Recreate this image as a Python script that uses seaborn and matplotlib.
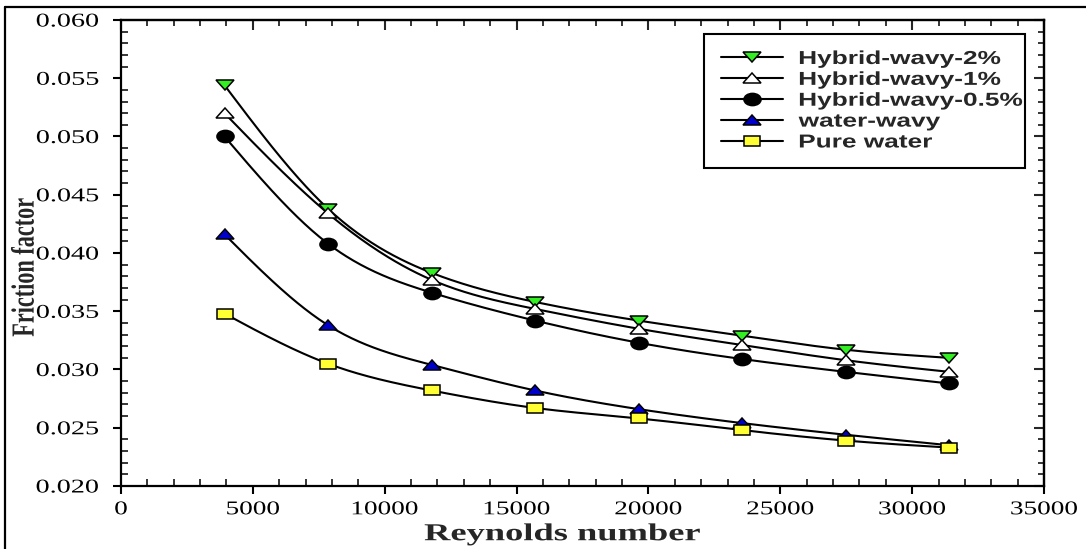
import numpy as np
import matplotlib
matplotlib.use("Agg")
import matplotlib.pyplot as plt
import seaborn as sns
from matplotlib.lines import Line2D
from matplotlib.markers import MarkerStyle
from matplotlib.patheffects import AbstractPathEffect
from matplotlib.transforms import Affine2D
from matplotlib.ticker import MultipleLocator

# ---- data -------------------------------------------------------------
reynolds = [3925, 7850, 11775, 15700, 19625, 23550, 27475, 31400]
hybrid_2 = [0.0544, 0.0438, 0.0383, 0.0358, 0.0342, 0.0329, 0.0317, 0.0310]
hybrid_1 = [0.0520, 0.0434, 0.0377, 0.0352, 0.0335, 0.0321, 0.0308, 0.0298]
hybrid_05 = [0.0500, 0.0408, 0.0366, 0.0342, 0.0323, 0.0309, 0.0298, 0.0288]
water_wavy = [0.0416, 0.0338, 0.0304, 0.0282, 0.0266, 0.0254, 0.0244, 0.0235]
pure_water = [0.0348, 0.0305, 0.0282, 0.0267, 0.0258, 0.0248, 0.0239, 0.0233]

labels = ["Hybrid-wavy-2%", "Hybrid-wavy-1%", "Hybrid-wavy-0.5%",
          "water-wavy", "Pure water"]
x_ticks = [0, 5000, 10000, 15000, 20000, 25000, 30000, 35000]
y_ticks = [0.020, 0.025, 0.030, 0.035, 0.040, 0.045, 0.050, 0.055, 0.060]

# ---- styling ----------------------------------------------------------
sns.set_style("ticks")
plt.rcParams["font.family"] = ["Liberation Serif", "DejaVu Serif"]


class Widen(AbstractPathEffect):
    """Draw text paths stretched horizontally about an anchor."""

    def __init__(self, sx=1.45, anchor="center"):
        super().__init__()
        self.sx = sx
        self.anchor = anchor

    def draw_path(self, renderer, gc, tpath, affine, rgbFace=None):
        ext = tpath.transformed(affine).get_extents()
        if self.anchor == "left":
            x0 = ext.x0
        elif self.anchor == "right":
            x0 = ext.x1
        else:
            x0 = 0.5 * (ext.x0 + ext.x1)
        aff = affine + Affine2D().translate(-x0, 0).scale(self.sx, 1).translate(x0, 0)
        renderer.draw_path(gc, tpath, aff, rgbFace)


def wide_marker(m, sx):
    return MarkerStyle(m, transform=Affine2D().scale(sx, 1))


def natural_spline(x, y, n=400):
    x = np.asarray(x, float)
    y = np.asarray(y, float)
    k = len(x)
    h = np.diff(x)
    A = np.zeros((k, k))
    b = np.zeros(k)
    A[0, 0] = A[-1, -1] = 1.0
    for i in range(1, k - 1):
        A[i, i - 1] = h[i - 1]
        A[i, i] = 2 * (h[i - 1] + h[i])
        A[i, i + 1] = h[i]
        b[i] = 6 * ((y[i + 1] - y[i]) / h[i] - (y[i] - y[i - 1]) / h[i - 1])
    M = np.linalg.solve(A, b)
    xs = np.linspace(x[0], x[-1], n)
    idx = np.clip(np.searchsorted(x, xs) - 1, 0, k - 2)
    x0, x1 = x[idx], x[idx + 1]
    hh = x1 - x0
    t0, t1 = x1 - xs, xs - x0
    ys = (M[idx] * t0 ** 3 + M[idx + 1] * t1 ** 3) / (6 * hh) \
        + (y[idx] / hh - M[idx] * hh / 6) * t0 \
        + (y[idx + 1] / hh - M[idx + 1] * hh / 6) * t1
    return xs, ys


series = [
    (hybrid_2, wide_marker("v", 1.7), "#33ee22", 7.4),
    (hybrid_1, wide_marker("^", 1.7), "white", 7.4),
    (hybrid_05, wide_marker("o", 1.4), "black", 8.8),
    (water_wavy, wide_marker("^", 1.7), "#0000cc", 7.4),
    (pure_water, wide_marker("s", 1.5), "#ffff33", 7.4),
]

fig = plt.figure(figsize=(10.86, 5.49), dpi=100)
ax = fig.add_axes([121 / 1086, 1 - 486 / 549, 923 / 1086, 466 / 549])

handles = []
for vals, mk, fc, ms in series:
    sx, sy = natural_spline(reynolds, vals)
    sns.lineplot(x=sx, y=sy, ax=ax, color="black", lw=1.5, sort=False,
                 legend=False, zorder=2)
    ax.plot(reynolds, vals, linestyle="none", marker=mk, ms=ms,
            mfc=fc, mec="black", mew=1.1, zorder=3)
    handles.append(Line2D([], [], color="black", lw=1.5, marker=mk, ms=ms,
                          mfc=fc, mec="black", mew=1.1))

ax.set_xlim(0, 35000)
ax.set_ylim(0.020, 0.060)
ax.set_xticks(x_ticks)
ax.set_yticks(y_ticks)
ax.set_xticklabels([str(v) for v in x_ticks])
ax.set_yticklabels([f"{v:.3f}" for v in y_ticks])
ax.xaxis.set_minor_locator(MultipleLocator(1000))
ax.yaxis.set_minor_locator(MultipleLocator(0.001))

for sp in ax.spines.values():
    sp.set_linewidth(1.6)
    sp.set_color("black")

ax.tick_params(which="major", direction="out", length=6, width=1.5,
               labelsize=14, colors="black", top=False, right=False)
ax.tick_params(axis="x", which="major", pad=5)
ax.tick_params(axis="y", which="major", pad=10)
ax.tick_params(which="minor", direction="in", length=5, width=1.3,
               top=False, right=False)

# inward ticks along the top and right edges
top = ax.secondary_xaxis("top")
top.xaxis.set_major_locator(MultipleLocator(5000))
top.xaxis.set_minor_locator(MultipleLocator(1000))
top.tick_params(which="major", direction="in", length=7, width=1.5, labeltop=False)
top.tick_params(which="minor", direction="in", length=4, width=1.3)
right = ax.secondary_yaxis("right")
right.yaxis.set_major_locator(MultipleLocator(0.005))
right.yaxis.set_minor_locator(MultipleLocator(0.001))
right.tick_params(which="major", direction="in", length=7, width=1.5, labelright=False)
right.tick_params(which="minor", direction="in", length=4, width=1.3)
for sec in (top, right):
    for sp in sec.spines.values():
        sp.set_linewidth(1.6)

ax.set_xlabel("Reynolds number", fontsize=17.5, fontweight="bold")
ax.xaxis.set_label_coords(0.478, -0.082)
ax.set_ylabel("Friction factor", fontsize=16, fontweight="bold")
ax.yaxis.set_label_coords(-0.093, 0.47)

leg = ax.legend(handles, labels, loc="upper left",
                bbox_to_anchor=(0.6316, 0.68, 0.3478, 0.29), mode="expand",
                borderaxespad=0, fancybox=False, framealpha=1,
                edgecolor="black", handlelength=3.3, handletextpad=0.85,
                borderpad=0.9, labelspacing=0.2,
                prop={"family": "Liberation Sans", "weight": "bold", "size": 13.5})
leg.get_frame().set_linewidth(1.5)

# outer frame of the panel
fig.add_artist(Line2D([5 / 1086, 5 / 1086], [0, 1 - 7 / 549],
                      transform=fig.transFigure, color="black", lw=1.6))
fig.add_artist(Line2D([5 / 1086, 1], [1 - 7 / 549, 1 - 7 / 549],
                      transform=fig.transFigure, color="black", lw=1.6))

fig.canvas.draw()
for t in ax.get_xticklabels():
    t.set_path_effects([Widen(sx=1.4, anchor="center")])
for t in ax.get_yticklabels():
    t.set_path_effects([Widen(sx=1.45, anchor="right")])
for t in leg.get_texts():
    t.set_path_effects([Widen(sx=1.4, anchor="left")])
ax.xaxis.label.set_path_effects([Widen(sx=1.5, anchor="center")])
ax.yaxis.label.set_path_effects([Widen(sx=1.45, anchor="center")])

fig.savefig("out.png", dpi=100)
